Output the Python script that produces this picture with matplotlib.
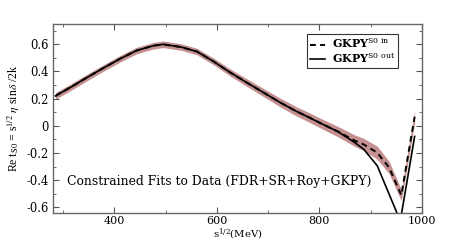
import matplotlib
matplotlib.use("Agg")
import matplotlib.pyplot as plt
import numpy as np

plt.rcParams['font.family'] = ['DejaVu Serif']
plt.rcParams['mathtext.fontset'] = 'dejavuserif'

# GKPY S0 in (dashed, with band)
s_in = [285, 291, 314, 346, 379, 411, 443, 476, 495, 530, 561, 593, 625, 658, 690, 722, 755, 781, 803, 836, 868, 887, 913, 936, 960, 986]
v_in = [0.22, 0.234, 0.283, 0.355, 0.427, 0.494, 0.554, 0.590, 0.600, 0.580, 0.547, 0.475, 0.395, 0.319, 0.247, 0.175, 0.107, 0.060, 0.018, -0.042, -0.107, -0.138, -0.198, -0.306, -0.51, 0.067]
err_in = [0.024, 0.024, 0.024, 0.024, 0.024, 0.024, 0.024, 0.024, 0.024, 0.024, 0.024, 0.024, 0.026, 0.028, 0.03, 0.032, 0.034, 0.035, 0.036, 0.038, 0.042, 0.045, 0.048, 0.046, 0.042, 0.045]

# GKPY S0 out (solid)
s_out = [285, 291, 314, 346, 379, 411, 443, 476, 495, 530, 561, 593, 625, 658, 690, 722, 755, 781, 803, 836, 868, 887, 913, 958, 986]
v_out = [0.22, 0.234, 0.283, 0.355, 0.427, 0.494, 0.554, 0.590, 0.600, 0.580, 0.547, 0.475, 0.395, 0.319, 0.247, 0.175, 0.107, 0.060, 0.018, -0.042, -0.12, -0.174, -0.294, -0.70, -0.078]

x_ticks = [400, 600, 800, 1000]
y_ticks = [-0.6, -0.4, -0.2, 0, 0.2, 0.4, 0.6]
y_ticklabels = ['-0.6', '-0.4', '-0.2', '0', '0.2', '0.4', '0.6']

fig = plt.figure(figsize=(4.57, 2.42), dpi=100)
ax = fig.add_axes([0.116, 0.118, 0.807, 0.783])

s_in_a = np.array(s_in)
v_in_a = np.array(v_in)
e_in_a = np.array(err_in)
ax.fill_between(s_in_a, v_in_a - e_in_a, v_in_a + e_in_a, color='#c49090', lw=0, zorder=1)
ax.plot(s_out, v_out, color='black', lw=1.2, ls='-', zorder=2, label=r'GKPY$^{\rm S0\ out}$')
ax.plot(s_in, v_in, color='black', lw=1.4, ls=(0, (3.0, 2.2)), zorder=3, label=r'GKPY$^{\rm S0\ in}$')

ax.set_xlim(280, 1000)
ax.set_ylim(-0.645, 0.75)
ax.set_xticks(x_ticks)
ax.set_xticks(np.arange(300, 1001, 100), minor=True)
ax.set_yticks(y_ticks)
ax.set_yticklabels(y_ticklabels)
ax.set_yticks(np.arange(-0.6, 0.75, 0.1), minor=True)
ax.tick_params(which='both', direction='in', top=True, right=True, labelsize=8.3,
               colors='#555555', labelcolor='black', pad=3)
ax.tick_params(axis='x', which='both', pad=1.5, labelsize=8)
ax.tick_params(which='major', length=4)
ax.tick_params(which='minor', length=2.5)
for sp in ax.spines.values():
    sp.set_color('#666666')
    sp.set_linewidth(1.0)

ax.set_xlabel(r'$\rm s^{1/2}$(MeV)', fontsize=7.3, labelpad=0.5)
ax.set_ylabel(r'Re t$_{\rm S0}$ = s$^{1/2}$ $\eta$ sin$\delta$ /2k', fontsize=8.5, labelpad=3,
              family='Liberation Serif', math_fontfamily='stix')

ax.text(307, -0.41, 'Constrained Fits to Data (FDR+SR+Roy+GKPY)', fontsize=8.9, va='center', ha='left')

h, l = ax.get_legend_handles_labels()
leg = ax.legend([h[1], h[0]], [l[1], l[0]], loc='upper right', bbox_to_anchor=(0.935, 0.948),
                prop={'size': 8, 'weight': 'bold', 'family': 'DejaVu Serif'}, frameon=True, fancybox=False,
                handlelength=1.35, handletextpad=0.6,
                borderpad=0.25, labelspacing=0.05, borderaxespad=0)
leg.get_frame().set_edgecolor('black')
leg.get_frame().set_linewidth(0.8)

fig.savefig('out.png', dpi=100)
